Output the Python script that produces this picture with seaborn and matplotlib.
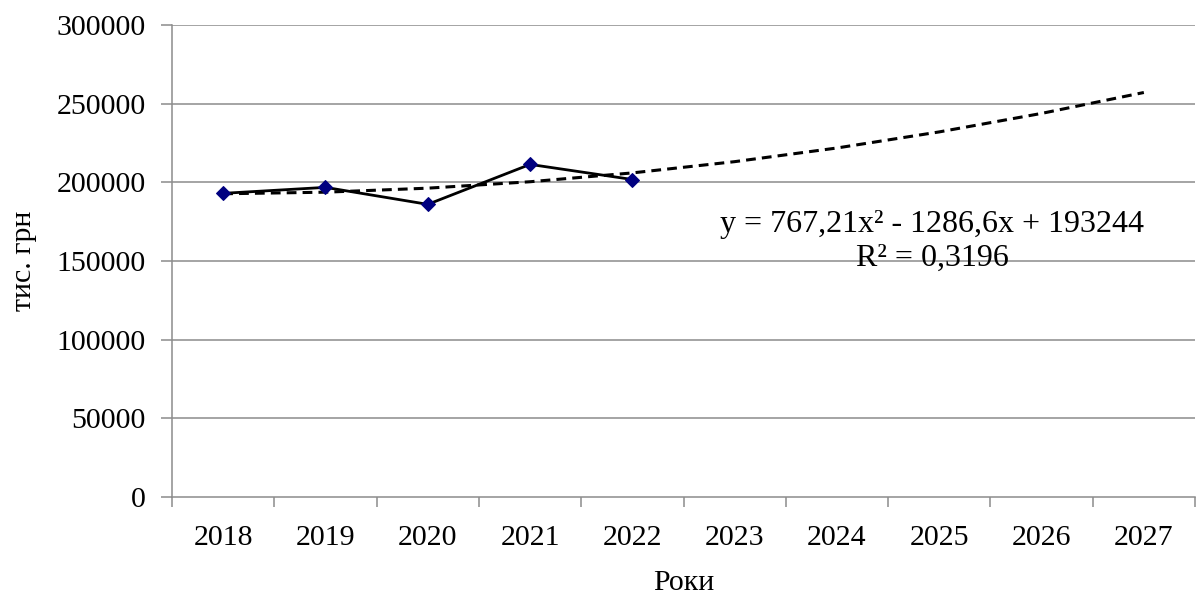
import numpy as np
import pandas as pd
import matplotlib
matplotlib.use("Agg")
import matplotlib.pyplot as plt
import seaborn as sns
from matplotlib.ticker import FixedLocator, NullFormatter, FixedFormatter

# ---- data ----
years = ["2018", "2019", "2020", "2021", "2022", "2023", "2024", "2025", "2026", "2027"]
actual_years = ["2018", "2019", "2020", "2021", "2022"]
actual_values = [193000, 196800, 186000, 211400, 201800]
trend_coef = [767.21, -1286.6, 193244]   # y = a x^2 + b x + c  (x = 1..10)
trend_label = "y = 767,21x² - 1286,6x + 193244\nR² = 0,3196"
y_ticks = [0, 50000, 100000, 150000, 200000, 250000, 300000]
x_title = "Роки"
y_title = "тис. грн"

sns.set_theme(style="white")
plt.rcParams["font.family"] = ["Liberation Serif", "DejaVu Serif"]
plt.rcParams["text.color"] = "black"
plt.rcParams["axes.labelcolor"] = "black"
plt.rcParams["xtick.color"] = "black"
plt.rcParams["ytick.color"] = "black"

FS = 21.5

fig = plt.figure(figsize=(11.96, 5.98), dpi=100)
ax = fig.add_axes([172 / 1196, 1 - 497 / 598, 1023 / 1196, 472 / 598])

pos = {y: i for i, y in enumerate(years)}
df = pd.DataFrame({"x": [pos[y] for y in actual_years], "v": actual_values})

trend_x = np.arange(len(years))
trend_y = np.polyval(trend_coef, trend_x + 1)
tdf = pd.DataFrame({"x": trend_x, "v": trend_y})

# gridlines
for t in y_ticks[1:]:
    ax.axhline(t, color="#8c8c8c", lw=1.1, zorder=0)

sns.lineplot(data=tdf, x="x", y="v", ax=ax, color="black", lw=2.2,
             linestyle=(0, (3.2, 2.0)), zorder=2)
sns.lineplot(data=df, x="x", y="v", ax=ax, color="black", lw=2.0,
             marker="D", markersize=7.5, markerfacecolor="#000080",
             markeredgecolor="#000080", zorder=3)

ax.set_xlim(-0.5, len(years) - 0.5)
ax.set_ylim(0, 300000)

# x ticks at category boundaries, labels at centres
ax.xaxis.set_major_locator(FixedLocator(np.arange(-0.5, len(years), 1.0)))
ax.xaxis.set_major_formatter(NullFormatter())
ax.xaxis.set_minor_locator(FixedLocator(np.arange(len(years))))
ax.xaxis.set_minor_formatter(FixedFormatter(years))
ax.tick_params(axis="x", which="major", direction="out", length=7, width=1.1,
               color="#8c8c8c", bottom=True)
ax.tick_params(axis="x", which="minor", length=0, pad=20, labelsize=FS,
               bottom=True, labelcolor="black")

ax.set_yticks(y_ticks)
ax.set_yticklabels([str(t) for t in y_ticks])
ax.tick_params(axis="y", direction="out", length=8, width=1.1, color="#8c8c8c",
               pad=11, labelsize=FS, left=True, labelcolor="black")

for s in ["top", "right"]:
    ax.spines[s].set_visible(False)
for s in ["left", "bottom"]:
    ax.spines[s].set_color("#8c8c8c")
    ax.spines[s].set_linewidth(1.1)

ax.set_xlabel(x_title, fontsize=FS, labelpad=14, color="black")
ax.set_ylabel(y_title, fontsize=FS, labelpad=14, color="black")

ax.text(6.93, 162500, trend_label, ha="center", va="center",
        fontsize=23, linespacing=1.22, zorder=4, color="black")

fig.savefig("out.png", dpi=100, facecolor="white")
